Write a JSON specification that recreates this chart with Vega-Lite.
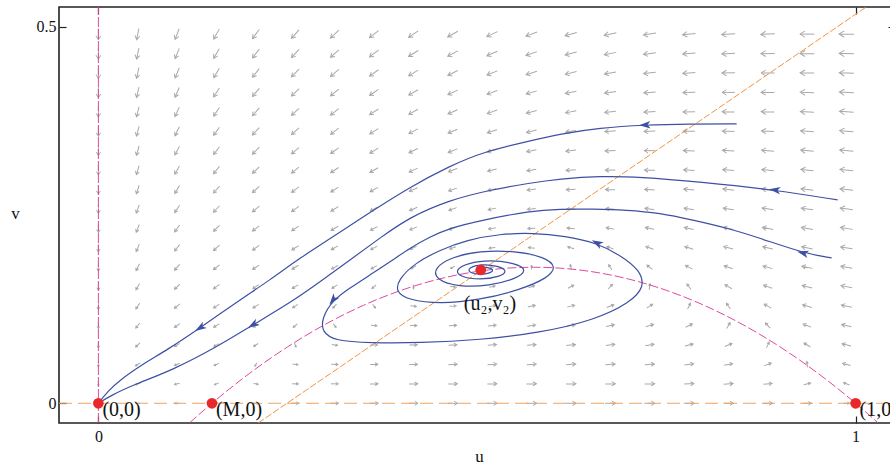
{
"$schema":"https://vega.github.io/schema/vega-lite/v6.json",
"width":836,"height":416,"autosize":"none",
"padding":{"left":59,"top":7,"right":0,"bottom":45},
"config":{"view":{"stroke":"#222","strokeWidth":1.6},
"axis":{"labelFont":"Liberation Serif","titleFont":"Liberation Serif","labelFontSize":16,"titleFontSize":17,"titleFontWeight":"normal","labelColor":"#111","titleColor":"#111","tickColor":"#222","tickWidth":1.2,"domain":false,"grid":false}},
"datasets":{
"vec":[
{"u":0,"v":0.0258,"d":90,"m":0.0027},{"u":0,"v":0.0516,"d":90,"m":0.006},{"u":0,"v":0.0774,"d":90,"m":0.0099},{"u":0,"v":0.1032,"d":90,"m":0.0146},{"u":0,"v":0.129,"d":90,"m":0.0199},{"u":0,"v":0.1548,"d":90,"m":0.0259},{"u":0,"v":0.1806,"d":90,"m":0.0325},{"u":0,"v":0.2064,"d":90,"m":0.0398},{"u":0,"v":0.2322,"d":90,"m":0.0478},{"u":0,"v":0.258,"d":90,"m":0.0564},{"u":0,"v":0.2838,"d":90,"m":0.0657},{"u":0,"v":0.3096,"d":90,"m":0.0757},{"u":0,"v":0.3354,"d":90,"m":0.0863},{"u":0,"v":0.3612,"d":90,"m":0.0976},{"u":0,"v":0.387,"d":90,"m":0.1096},{"u":0,"v":0.4128,"d":90,"m":0.1222},{"u":0,"v":0.4386,"d":90,"m":0.1355},{"u":0,"v":0.4644,"d":90,"m":0.1495},{"u":0,"v":0.4902,"d":90,"m":0.1641},
{"u":0.052,"v":0,"d":180,"m":0.0048},{"u":0.052,"v":0.0258,"d":161,"m":0.0065},{"u":0.052,"v":0.0516,"d":146,"m":0.009},{"u":0.052,"v":0.0774,"d":136,"m":0.0123},{"u":0.052,"v":0.1032,"d":129,"m":0.0163},{"u":0.052,"v":0.129,"d":123,"m":0.021},{"u":0.052,"v":0.1548,"d":119,"m":0.0264},{"u":0.052,"v":0.1806,"d":116,"m":0.0325},{"u":0.052,"v":0.2064,"d":113,"m":0.0392},{"u":0.052,"v":0.2322,"d":111,"m":0.0467},{"u":0.052,"v":0.258,"d":110,"m":0.0548},{"u":0.052,"v":0.2838,"d":108,"m":0.0636},{"u":0.052,"v":0.3096,"d":107,"m":0.0731},{"u":0.052,"v":0.3354,"d":106,"m":0.0832},{"u":0.052,"v":0.3612,"d":105,"m":0.094},{"u":0.052,"v":0.387,"d":104,"m":0.1055},{"u":0.052,"v":0.4128,"d":103,"m":0.1177},{"u":0.052,"v":0.4386,"d":102,"m":0.1305},{"u":0.052,"v":0.4644,"d":102,"m":0.144},{"u":0.052,"v":0.4902,"d":101,"m":0.158},
{"u":0.104,"v":0,"d":180,"m":0.0043},{"u":0.104,"v":0.0258,"d":166,"m":0.0072},{"u":0.104,"v":0.0516,"d":157,"m":0.0105},{"u":0.104,"v":0.0774,"d":150,"m":0.0142},{"u":0.104,"v":0.1032,"d":144,"m":0.0185},{"u":0.104,"v":0.129,"d":139,"m":0.0233},{"u":0.104,"v":0.1548,"d":135,"m":0.0287},{"u":0.104,"v":0.1806,"d":132,"m":0.0347},{"u":0.104,"v":0.2064,"d":129,"m":0.0413},{"u":0.104,"v":0.2322,"d":126,"m":0.0485},{"u":0.104,"v":0.258,"d":124,"m":0.0564},{"u":0.104,"v":0.2838,"d":121,"m":0.0648},{"u":0.104,"v":0.3096,"d":120,"m":0.074},{"u":0.104,"v":0.3354,"d":118,"m":0.0838},{"u":0.104,"v":0.3612,"d":116,"m":0.0942},{"u":0.104,"v":0.387,"d":115,"m":0.1053},{"u":0.104,"v":0.4128,"d":114,"m":0.117},{"u":0.104,"v":0.4386,"d":113,"m":0.1295},{"u":0.104,"v":0.4644,"d":112,"m":0.1425},{"u":0.104,"v":0.4902,"d":111,"m":0.1563},
{"u":0.156,"v":0,"d":0,"m":0.0008},{"u":0.156,"v":0.0258,"d":159,"m":0.0035},{"u":0.156,"v":0.0516,"d":157,"m":0.0079},{"u":0.156,"v":0.0774,"d":153,"m":0.0126},{"u":0.156,"v":0.1032,"d":150,"m":0.0177},{"u":0.156,"v":0.129,"d":147,"m":0.0232},{"u":0.156,"v":0.1548,"d":143,"m":0.0291},{"u":0.156,"v":0.1806,"d":141,"m":0.0355},{"u":0.156,"v":0.2064,"d":138,"m":0.0424},{"u":0.156,"v":0.2322,"d":135,"m":0.0498},{"u":0.156,"v":0.258,"d":133,"m":0.0578},{"u":0.156,"v":0.2838,"d":131,"m":0.0664},{"u":0.156,"v":0.3096,"d":129,"m":0.0755},{"u":0.156,"v":0.3354,"d":127,"m":0.0853},{"u":0.156,"v":0.3612,"d":126,"m":0.0956},{"u":0.156,"v":0.387,"d":124,"m":0.1066},{"u":0.156,"v":0.4128,"d":123,"m":0.1181},{"u":0.156,"v":0.4386,"d":121,"m":0.1303},{"u":0.156,"v":0.4644,"d":120,"m":0.1432},{"u":0.156,"v":0.4902,"d":119,"m":0.1567},
{"u":0.208,"v":0,"d":0,"m":0.0096},{"u":0.208,"v":0.0258,"d":10,"m":0.0043},{"u":0.208,"v":0.0516,"d":119,"m":0.0025},{"u":0.208,"v":0.0774,"d":147,"m":0.0078},{"u":0.208,"v":0.1032,"d":150,"m":0.0138},{"u":0.208,"v":0.129,"d":149,"m":0.0202},{"u":0.208,"v":0.1548,"d":147,"m":0.0269},{"u":0.208,"v":0.1806,"d":146,"m":0.034},{"u":0.208,"v":0.2064,"d":144,"m":0.0415},{"u":0.208,"v":0.2322,"d":142,"m":0.0495},{"u":0.208,"v":0.258,"d":140,"m":0.0579},{"u":0.208,"v":0.2838,"d":138,"m":0.0668},{"u":0.208,"v":0.3096,"d":136,"m":0.0763},{"u":0.208,"v":0.3354,"d":134,"m":0.0863},{"u":0.208,"v":0.3612,"d":133,"m":0.0968},{"u":0.208,"v":0.387,"d":131,"m":0.1079},{"u":0.208,"v":0.4128,"d":130,"m":0.1195},{"u":0.208,"v":0.4386,"d":128,"m":0.1318},{"u":0.208,"v":0.4644,"d":127,"m":0.1446},{"u":0.208,"v":0.4902,"d":126,"m":0.158},
{"u":0.26,"v":0,"d":0,"m":0.0212},{"u":0.26,"v":0.0258,"d":1,"m":0.0145},{"u":0.26,"v":0.0516,"d":9,"m":0.0079},{"u":0.26,"v":0.0774,"d":70,"m":0.003},{"u":0.26,"v":0.1032,"d":138,"m":0.0077},{"u":0.26,"v":0.129,"d":147,"m":0.0148},{"u":0.26,"v":0.1548,"d":149,"m":0.0224},{"u":0.26,"v":0.1806,"d":148,"m":0.0303},{"u":0.26,"v":0.2064,"d":147,"m":0.0387},{"u":0.26,"v":0.2322,"d":146,"m":0.0474},{"u":0.26,"v":0.258,"d":144,"m":0.0565},{"u":0.26,"v":0.2838,"d":143,"m":0.066},{"u":0.26,"v":0.3096,"d":141,"m":0.0759},{"u":0.26,"v":0.3354,"d":140,"m":0.0864},{"u":0.26,"v":0.3612,"d":138,"m":0.0973},{"u":0.26,"v":0.387,"d":137,"m":0.1087},{"u":0.26,"v":0.4128,"d":136,"m":0.1207},{"u":0.26,"v":0.4386,"d":134,"m":0.1332},{"u":0.26,"v":0.4644,"d":133,"m":0.1462},{"u":0.26,"v":0.4902,"d":132,"m":0.1598},
{"u":0.312,"v":0,"d":0,"m":0.0348},{"u":0.312,"v":0.0258,"d":360,"m":0.0267},{"u":0.312,"v":0.0516,"d":1,"m":0.0187},{"u":0.312,"v":0.0774,"d":8,"m":0.0107},{"u":0.312,"v":0.1032,"d":52,"m":0.0042},{"u":0.312,"v":0.129,"d":134,"m":0.0079},{"u":0.312,"v":0.1548,"d":147,"m":0.0162},{"u":0.312,"v":0.1806,"d":150,"m":0.025},{"u":0.312,"v":0.2064,"d":150,"m":0.0342},{"u":0.312,"v":0.2322,"d":149,"m":0.0438},{"u":0.312,"v":0.258,"d":148,"m":0.0537},{"u":0.312,"v":0.2838,"d":147,"m":0.0639},{"u":0.312,"v":0.3096,"d":146,"m":0.0746},{"u":0.312,"v":0.3354,"d":145,"m":0.0856},{"u":0.312,"v":0.3612,"d":143,"m":0.0971},{"u":0.312,"v":0.387,"d":142,"m":0.1091},{"u":0.312,"v":0.4128,"d":141,"m":0.1215},{"u":0.312,"v":0.4386,"d":139,"m":0.1344},{"u":0.312,"v":0.4644,"d":138,"m":0.1477},{"u":0.312,"v":0.4902,"d":137,"m":0.1617},
{"u":0.364,"v":0,"d":0,"m":0.0495},{"u":0.364,"v":0.0258,"d":359,"m":0.0402},{"u":0.364,"v":0.0516,"d":359,"m":0.0308},{"u":0.364,"v":0.0774,"d":0,"m":0.0214},{"u":0.364,"v":0.1032,"d":7,"m":0.0121},{"u":0.364,"v":0.129,"d":53,"m":0.0043},{"u":0.364,"v":0.1548,"d":138,"m":0.0091},{"u":0.364,"v":0.1806,"d":150,"m":0.0187},{"u":0.364,"v":0.2064,"d":152,"m":0.0289},{"u":0.364,"v":0.2322,"d":153,"m":0.0394},{"u":0.364,"v":0.258,"d":152,"m":0.0502},{"u":0.364,"v":0.2838,"d":151,"m":0.0613},{"u":0.364,"v":0.3096,"d":150,"m":0.0727},{"u":0.364,"v":0.3354,"d":149,"m":0.0845},{"u":0.364,"v":0.3612,"d":148,"m":0.0967},{"u":0.364,"v":0.387,"d":147,"m":0.1093},{"u":0.364,"v":0.4128,"d":145,"m":0.1223},{"u":0.364,"v":0.4386,"d":144,"m":0.1357},{"u":0.364,"v":0.4644,"d":143,"m":0.1496},{"u":0.364,"v":0.4902,"d":142,"m":0.164},
{"u":0.416,"v":0,"d":0,"m":0.0646},{"u":0.416,"v":0.0258,"d":359,"m":0.0539},{"u":0.416,"v":0.0516,"d":358,"m":0.0432},{"u":0.416,"v":0.0774,"d":358,"m":0.0324},{"u":0.416,"v":0.1032,"d":359,"m":0.0217},{"u":0.416,"v":0.129,"d":5,"m":0.011},{"u":0.416,"v":0.1548,"d":86,"m":0.0032},{"u":0.416,"v":0.1806,"d":150,"m":0.0122},{"u":0.416,"v":0.2064,"d":156,"m":0.0233},{"u":0.416,"v":0.2322,"d":157,"m":0.0348},{"u":0.416,"v":0.258,"d":156,"m":0.0466},{"u":0.416,"v":0.2838,"d":156,"m":0.0587},{"u":0.416,"v":0.3096,"d":155,"m":0.071},{"u":0.416,"v":0.3354,"d":154,"m":0.0837},{"u":0.416,"v":0.3612,"d":152,"m":0.0967},{"u":0.416,"v":0.387,"d":151,"m":0.11},{"u":0.416,"v":0.4128,"d":150,"m":0.1237},{"u":0.416,"v":0.4386,"d":149,"m":0.1378},{"u":0.416,"v":0.4644,"d":148,"m":0.1523},{"u":0.416,"v":0.4902,"d":146,"m":0.1672},
{"u":0.468,"v":0,"d":0,"m":0.0792},{"u":0.468,"v":0.0258,"d":359,"m":0.0671},{"u":0.468,"v":0.0516,"d":357,"m":0.0551},{"u":0.468,"v":0.0774,"d":356,"m":0.0431},{"u":0.468,"v":0.1032,"d":356,"m":0.031},{"u":0.468,"v":0.129,"d":356,"m":0.0189},{"u":0.468,"v":0.1548,"d":3,"m":0.0068},{"u":0.468,"v":0.1806,"d":152,"m":0.006},{"u":0.468,"v":0.2064,"d":161,"m":0.0184},{"u":0.468,"v":0.2322,"d":162,"m":0.031},{"u":0.468,"v":0.258,"d":161,"m":0.0438},{"u":0.468,"v":0.2838,"d":161,"m":0.0569},{"u":0.468,"v":0.3096,"d":159,"m":0.0702},{"u":0.468,"v":0.3354,"d":158,"m":0.0838},{"u":0.468,"v":0.3612,"d":157,"m":0.0976},{"u":0.468,"v":0.387,"d":156,"m":0.1118},{"u":0.468,"v":0.4128,"d":155,"m":0.1263},{"u":0.468,"v":0.4386,"d":153,"m":0.1411},{"u":0.468,"v":0.4644,"d":152,"m":0.1563},{"u":0.468,"v":0.4902,"d":151,"m":0.1718},
{"u":0.52,"v":0,"d":0,"m":0.0924},{"u":0.52,"v":0.0258,"d":359,"m":0.079},{"u":0.52,"v":0.0516,"d":357,"m":0.0656},{"u":0.52,"v":0.0774,"d":355,"m":0.0523},{"u":0.52,"v":0.1032,"d":354,"m":0.0389},{"u":0.52,"v":0.129,"d":352,"m":0.0255},{"u":0.52,"v":0.1548,"d":348,"m":0.0121},{"u":0.52,"v":0.1806,"d":198,"m":0.0016},{"u":0.52,"v":0.2064,"d":172,"m":0.0151},{"u":0.52,"v":0.2322,"d":169,"m":0.0289},{"u":0.52,"v":0.258,"d":168,"m":0.0428},{"u":0.52,"v":0.2838,"d":166,"m":0.0569},{"u":0.52,"v":0.3096,"d":165,"m":0.0712},{"u":0.52,"v":0.3354,"d":163,"m":0.0858},{"u":0.52,"v":0.3612,"d":162,"m":0.1006},{"u":0.52,"v":0.387,"d":160,"m":0.1156},{"u":0.52,"v":0.4128,"d":159,"m":0.1309},{"u":0.52,"v":0.4386,"d":158,"m":0.1466},{"u":0.52,"v":0.4644,"d":157,"m":0.1625},{"u":0.52,"v":0.4902,"d":155,"m":0.1788},
{"u":0.572,"v":0,"d":0,"m":0.1033},{"u":0.572,"v":0.0258,"d":358,"m":0.0886},{"u":0.572,"v":0.0516,"d":357,"m":0.0739},{"u":0.572,"v":0.0774,"d":355,"m":0.0593},{"u":0.572,"v":0.1032,"d":352,"m":0.0447},{"u":0.572,"v":0.129,"d":348,"m":0.0301},{"u":0.572,"v":0.1548,"d":340,"m":0.0157},{"u":0.572,"v":0.1806,"d":270,"m":0.0038},{"u":0.572,"v":0.2064,"d":187,"m":0.0149},{"u":0.572,"v":0.2322,"d":178,"m":0.0295},{"u":0.572,"v":0.258,"d":174,"m":0.0445},{"u":0.572,"v":0.2838,"d":172,"m":0.0597},{"u":0.572,"v":0.3096,"d":170,"m":0.075},{"u":0.572,"v":0.3354,"d":168,"m":0.0905},{"u":0.572,"v":0.3612,"d":166,"m":0.1063},{"u":0.572,"v":0.387,"d":165,"m":0.1223},{"u":0.572,"v":0.4128,"d":164,"m":0.1385},{"u":0.572,"v":0.4386,"d":162,"m":0.155},{"u":0.572,"v":0.4644,"d":161,"m":0.1717},{"u":0.572,"v":0.4902,"d":160,"m":0.1888},
{"u":0.624,"v":0,"d":0,"m":0.1112},{"u":0.624,"v":0.0258,"d":358,"m":0.0951},{"u":0.624,"v":0.0516,"d":356,"m":0.0792},{"u":0.624,"v":0.0774,"d":354,"m":0.0633},{"u":0.624,"v":0.1032,"d":350,"m":0.0475},{"u":0.624,"v":0.129,"d":345,"m":0.0318},{"u":0.624,"v":0.1548,"d":331,"m":0.0167},{"u":0.624,"v":0.1806,"d":258,"m":0.0073},{"u":0.624,"v":0.2064,"d":197,"m":0.0184},{"u":0.624,"v":0.2322,"d":185,"m":0.0338},{"u":0.624,"v":0.258,"d":180,"m":0.0498},{"u":0.624,"v":0.2838,"d":177,"m":0.066},{"u":0.624,"v":0.3096,"d":175,"m":0.0824},{"u":0.624,"v":0.3354,"d":173,"m":0.0989},{"u":0.624,"v":0.3612,"d":171,"m":0.1157},{"u":0.624,"v":0.387,"d":169,"m":0.1326},{"u":0.624,"v":0.4128,"d":168,"m":0.1498},{"u":0.624,"v":0.4386,"d":166,"m":0.1672},{"u":0.624,"v":0.4644,"d":165,"m":0.1848},{"u":0.624,"v":0.4902,"d":164,"m":0.2027},
{"u":0.676,"v":0,"d":0,"m":0.1152},{"u":0.676,"v":0.0258,"d":358,"m":0.0978},{"u":0.676,"v":0.0516,"d":356,"m":0.0806},{"u":0.676,"v":0.0774,"d":352,"m":0.0634},{"u":0.676,"v":0.1032,"d":348,"m":0.0465},{"u":0.676,"v":0.129,"d":339,"m":0.03},{"u":0.676,"v":0.1548,"d":314,"m":0.0152},{"u":0.676,"v":0.1806,"d":237,"m":0.0125},{"u":0.676,"v":0.2064,"d":201,"m":0.026},{"u":0.676,"v":0.2322,"d":190,"m":0.0424},{"u":0.676,"v":0.258,"d":185,"m":0.0594},{"u":0.676,"v":0.2838,"d":181,"m":0.0767},{"u":0.676,"v":0.3096,"d":179,"m":0.0941},{"u":0.676,"v":0.3354,"d":177,"m":0.1117},{"u":0.676,"v":0.3612,"d":175,"m":0.1295},{"u":0.676,"v":0.387,"d":173,"m":0.1475},{"u":0.676,"v":0.4128,"d":172,"m":0.1657},{"u":0.676,"v":0.4386,"d":170,"m":0.184},{"u":0.676,"v":0.4644,"d":169,"m":0.2025},{"u":0.676,"v":0.4902,"d":168,"m":0.2214},
{"u":0.728,"v":0,"d":0,"m":0.1144},{"u":0.728,"v":0.0258,"d":358,"m":0.0957},{"u":0.728,"v":0.0516,"d":355,"m":0.0772},{"u":0.728,"v":0.0774,"d":350,"m":0.0589},{"u":0.728,"v":0.1032,"d":343,"m":0.0411},{"u":0.728,"v":0.129,"d":327,"m":0.0244},{"u":0.728,"v":0.1548,"d":277,"m":0.0139},{"u":0.728,"v":0.1806,"d":219,"m":0.0219},{"u":0.728,"v":0.2064,"d":200,"m":0.0381},{"u":0.728,"v":0.2322,"d":192,"m":0.0558},{"u":0.728,"v":0.258,"d":188,"m":0.074},{"u":0.728,"v":0.2838,"d":184,"m":0.0924},{"u":0.728,"v":0.3096,"d":182,"m":0.111},{"u":0.728,"v":0.3354,"d":180,"m":0.1297},{"u":0.728,"v":0.3612,"d":178,"m":0.1486},{"u":0.728,"v":0.387,"d":176,"m":0.1676},{"u":0.728,"v":0.4128,"d":175,"m":0.1868},{"u":0.728,"v":0.4386,"d":174,"m":0.2062},{"u":0.728,"v":0.4644,"d":172,"m":0.2257},{"u":0.728,"v":0.4902,"d":171,"m":0.2455},
{"u":0.78,"v":0,"d":0,"m":0.1081},{"u":0.78,"v":0.0258,"d":357,"m":0.0881},{"u":0.78,"v":0.0516,"d":353,"m":0.0684},{"u":0.78,"v":0.0774,"d":347,"m":0.0491},{"u":0.78,"v":0.1032,"d":334,"m":0.0308},{"u":0.78,"v":0.129,"d":296,"m":0.0172},{"u":0.78,"v":0.1548,"d":233,"m":0.0209},{"u":0.78,"v":0.1806,"d":208,"m":0.0369},{"u":0.78,"v":0.2064,"d":198,"m":0.0555},{"u":0.78,"v":0.2322,"d":192,"m":0.0747},{"u":0.78,"v":0.258,"d":189,"m":0.0942},{"u":0.78,"v":0.2838,"d":186,"m":0.1139},{"u":0.78,"v":0.3096,"d":184,"m":0.1337},{"u":0.78,"v":0.3354,"d":182,"m":0.1536},{"u":0.78,"v":0.3612,"d":181,"m":0.1736},{"u":0.78,"v":0.387,"d":179,"m":0.1938},{"u":0.78,"v":0.4128,"d":178,"m":0.2141},{"u":0.78,"v":0.4386,"d":176,"m":0.2345},{"u":0.78,"v":0.4644,"d":175,"m":0.2551},{"u":0.78,"v":0.4902,"d":174,"m":0.2758},
{"u":0.832,"v":0,"d":0,"m":0.0954},{"u":0.832,"v":0.0258,"d":356,"m":0.074},{"u":0.832,"v":0.0516,"d":350,"m":0.0532},{"u":0.832,"v":0.0774,"d":338,"m":0.0335},{"u":0.832,"v":0.1032,"d":301,"m":0.0183},{"u":0.832,"v":0.129,"d":236,"m":0.0215},{"u":0.832,"v":0.1548,"d":210,"m":0.0387},{"u":0.832,"v":0.1806,"d":200,"m":0.0585},{"u":0.832,"v":0.2064,"d":195,"m":0.0791},{"u":0.832,"v":0.2322,"d":192,"m":0.0999},{"u":0.832,"v":0.258,"d":189,"m":0.1208},{"u":0.832,"v":0.2838,"d":187,"m":0.1418},{"u":0.832,"v":0.3096,"d":185,"m":0.1629},{"u":0.832,"v":0.3354,"d":184,"m":0.1841},{"u":0.832,"v":0.3612,"d":182,"m":0.2054},{"u":0.832,"v":0.387,"d":181,"m":0.2266},{"u":0.832,"v":0.4128,"d":180,"m":0.2481},{"u":0.832,"v":0.4386,"d":179,"m":0.2697},{"u":0.832,"v":0.4644,"d":177,"m":0.2913},{"u":0.832,"v":0.4902,"d":176,"m":0.3132},
{"u":0.884,"v":0,"d":0,"m":0.0752},{"u":0.884,"v":0.0258,"d":354,"m":0.0527},{"u":0.884,"v":0.0516,"d":341,"m":0.0313},{"u":0.884,"v":0.0774,"d":296,"m":0.0157},{"u":0.884,"v":0.1032,"d":228,"m":0.0237},{"u":0.884,"v":0.129,"d":208,"m":0.0438},{"u":0.884,"v":0.1548,"d":200,"m":0.0655},{"u":0.884,"v":0.1806,"d":196,"m":0.0877},{"u":0.884,"v":0.2064,"d":193,"m":0.1099},{"u":0.884,"v":0.2322,"d":191,"m":0.1323},{"u":0.884,"v":0.258,"d":189,"m":0.1546},{"u":0.884,"v":0.2838,"d":187,"m":0.177},{"u":0.884,"v":0.3096,"d":186,"m":0.1996},{"u":0.884,"v":0.3354,"d":185,"m":0.222},{"u":0.884,"v":0.3612,"d":183,"m":0.2445},{"u":0.884,"v":0.387,"d":182,"m":0.2671},{"u":0.884,"v":0.4128,"d":181,"m":0.2898},{"u":0.884,"v":0.4386,"d":180,"m":0.3125},{"u":0.884,"v":0.4644,"d":179,"m":0.3353},{"u":0.884,"v":0.4902,"d":178,"m":0.3583},
{"u":0.936,"v":0,"d":0,"m":0.0471},{"u":0.936,"v":0.0258,"d":346,"m":0.0237},{"u":0.936,"v":0.0516,"d":264,"m":0.0111},{"u":0.936,"v":0.0774,"d":212,"m":0.0297},{"u":0.936,"v":0.1032,"d":201,"m":0.0532},{"u":0.936,"v":0.129,"d":197,"m":0.077},{"u":0.936,"v":0.1548,"d":194,"m":0.101},{"u":0.936,"v":0.1806,"d":192,"m":0.1249},{"u":0.936,"v":0.2064,"d":191,"m":0.1488},{"u":0.936,"v":0.2322,"d":190,"m":0.1727},{"u":0.936,"v":0.258,"d":188,"m":0.1965},{"u":0.936,"v":0.2838,"d":187,"m":0.2203},{"u":0.936,"v":0.3096,"d":186,"m":0.2441},{"u":0.936,"v":0.3354,"d":185,"m":0.268},{"u":0.936,"v":0.3612,"d":184,"m":0.2918},{"u":0.936,"v":0.387,"d":183,"m":0.3157},{"u":0.936,"v":0.4128,"d":182,"m":0.3396},{"u":0.936,"v":0.4386,"d":181,"m":0.3635},{"u":0.936,"v":0.4644,"d":181,"m":0.3876},{"u":0.936,"v":0.4902,"d":180,"m":0.4117},
{"u":0.988,"v":0,"d":0,"m":0.01},{"u":0.988,"v":0.0258,"d":202,"m":0.0167},{"u":0.988,"v":0.0516,"d":196,"m":0.0427},{"u":0.988,"v":0.0774,"d":194,"m":0.0686},{"u":0.988,"v":0.1032,"d":193,"m":0.0944},{"u":0.988,"v":0.129,"d":192,"m":0.1201},{"u":0.988,"v":0.1548,"d":191,"m":0.1457},{"u":0.988,"v":0.1806,"d":190,"m":0.1712},{"u":0.988,"v":0.2064,"d":189,"m":0.1965},{"u":0.988,"v":0.2322,"d":189,"m":0.2218},{"u":0.988,"v":0.258,"d":188,"m":0.2471},{"u":0.988,"v":0.2838,"d":187,"m":0.2724},{"u":0.988,"v":0.3096,"d":186,"m":0.2976},{"u":0.988,"v":0.3354,"d":185,"m":0.3228},{"u":0.988,"v":0.3612,"d":185,"m":0.348},{"u":0.988,"v":0.387,"d":184,"m":0.3732},{"u":0.988,"v":0.4128,"d":183,"m":0.3985},{"u":0.988,"v":0.4386,"d":182,"m":0.4237},{"u":0.988,"v":0.4644,"d":182,"m":0.449},{"u":0.988,"v":0.4902,"d":181,"m":0.4743}
],
"uaxis":[{"u":0,"v":-0.0262},{"u":0,"v":0.5262}],
"vzero":[{"u":-0.052,"v":0},{"u":1.052,"v":0}],
"vline":[{"u":0.211,"v":-0.0262},{"u":1.014,"v":0.5262}],
"parab":[{"u":0.1205,"v":-0.0259},{"u":0.15,"v":0},{"u":0.2,"v":0.04},{"u":0.25,"v":0.075},{"u":0.3,"v":0.105},{"u":0.35,"v":0.13},{"u":0.4,"v":0.15},{"u":0.45,"v":0.165},{"u":0.5,"v":0.175},{"u":0.55,"v":0.18},{"u":0.575,"v":0.1806},{"u":0.6,"v":0.18},{"u":0.65,"v":0.175},{"u":0.7,"v":0.165},{"u":0.75,"v":0.15},{"u":0.8,"v":0.13},{"u":0.85,"v":0.105},{"u":0.9,"v":0.075},{"u":0.95,"v":0.04},{"u":1,"v":0},{"u":1.029,"v":-0.0255}],
"traj":[
{"t":1,"i":0,"u":0.8429,"v":0.3709},{"t":1,"i":1,"u":0.7809,"v":0.3709},{"t":1,"i":2,"u":0.7215,"v":0.3696},{"t":1,"i":3,"u":0.6622,"v":0.3656},{"t":1,"i":4,"u":0.6094,"v":0.3576},{"t":1,"i":5,"u":0.5698,"v":0.3483},{"t":1,"i":6,"u":0.5077,"v":0.3337},{"t":1,"i":7,"u":0.4642,"v":0.3151},{"t":1,"i":8,"u":0.4114,"v":0.2873},{"t":1,"i":9,"u":0.3493,"v":0.2474},{"t":1,"i":10,"u":0.3098,"v":0.2209},{"t":1,"i":11,"u":0.2662,"v":0.193},{"t":1,"i":12,"u":0.2266,"v":0.1637},{"t":1,"i":13,"u":0.187,"v":0.1373},{"t":1,"i":14,"u":0.1342,"v":0.1},{"t":1,"i":15,"u":0.0907,"v":0.0708},{"t":1,"i":16,"u":0.059,"v":0.0522},{"t":1,"i":17,"u":0.0286,"v":0.031},{"t":1,"i":18,"u":0.0115,"v":0.015},{"t":1,"i":19,"u":0,"v":0},
{"t":2,"i":0,"u":0.9762,"v":0.27},{"t":2,"i":1,"u":0.8931,"v":0.2833},{"t":2,"i":2,"u":0.7941,"v":0.2939},{"t":2,"i":3,"u":0.7149,"v":0.3005},{"t":2,"i":4,"u":0.6622,"v":0.3018},{"t":2,"i":5,"u":0.6094,"v":0.2978},{"t":2,"i":6,"u":0.5698,"v":0.2925},{"t":2,"i":7,"u":0.517,"v":0.2832},{"t":2,"i":8,"u":0.4642,"v":0.27},{"t":2,"i":9,"u":0.4114,"v":0.2474},{"t":2,"i":10,"u":0.3718,"v":0.2195},{"t":2,"i":11,"u":0.3322,"v":0.1903},{"t":2,"i":12,"u":0.2926,"v":0.1611},{"t":2,"i":13,"u":0.253,"v":0.1332},{"t":2,"i":14,"u":0.2041,"v":0.1041},{"t":2,"i":15,"u":0.1566,"v":0.0748},{"t":2,"i":16,"u":0.0986,"v":0.0443},{"t":2,"i":17,"u":0.0458,"v":0.0243},{"t":2,"i":18,"u":0.0154,"v":0.0097},{"t":2,"i":19,"u":0,"v":0},
{"t":3,"i":0,"u":0.9683,"v":0.193},{"t":3,"i":1,"u":0.9301,"v":0.1996},{"t":3,"i":2,"u":0.8733,"v":0.2195},{"t":3,"i":3,"u":0.8298,"v":0.2328},{"t":3,"i":4,"u":0.7849,"v":0.2434},{"t":3,"i":5,"u":0.7413,"v":0.2527},{"t":3,"i":6,"u":0.6978,"v":0.2567},{"t":3,"i":7,"u":0.6529,"v":0.258},{"t":3,"i":8,"u":0.6094,"v":0.258},{"t":3,"i":9,"u":0.5698,"v":0.2554},{"t":3,"i":10,"u":0.5077,"v":0.2434},{"t":3,"i":11,"u":0.4642,"v":0.2328},{"t":3,"i":12,"u":0.4378,"v":0.2208},{"t":3,"i":13,"u":0.4114,"v":0.2062},{"t":3,"i":14,"u":0.3889,"v":0.1903},{"t":3,"i":15,"u":0.3586,"v":0.1704},{"t":3,"i":16,"u":0.3322,"v":0.1531},{"t":3,"i":17,"u":0.3098,"v":0.1372},{"t":3,"i":18,"u":0.2952,"v":0.1133},{"t":3,"i":19,"u":0.2952,"v":0.0947},{"t":3,"i":20,"u":0.3124,"v":0.0828},{"t":3,"i":21,"u":0.3586,"v":0.0801},{"t":3,"i":22,"u":0.4246,"v":0.0801},{"t":3,"i":23,"u":0.5038,"v":0.0841},{"t":3,"i":24,"u":0.583,"v":0.0934},{"t":3,"i":25,"u":0.6556,"v":0.1107},{"t":3,"i":26,"u":0.7018,"v":0.1333},{"t":3,"i":27,"u":0.7216,"v":0.1545},{"t":3,"i":28,"u":0.715,"v":0.1771},{"t":3,"i":29,"u":0.6886,"v":0.197},{"t":3,"i":30,"u":0.6583,"v":0.2129},{"t":3,"i":31,"u":0.6161,"v":0.2222},{"t":3,"i":32,"u":0.5738,"v":0.2262},{"t":3,"i":33,"u":0.5303,"v":0.2249},{"t":3,"i":34,"u":0.4867,"v":0.2169},{"t":3,"i":35,"u":0.4511,"v":0.2036},{"t":3,"i":36,"u":0.4181,"v":0.1863},{"t":3,"i":37,"u":0.3957,"v":0.1638},{"t":3,"i":38,"u":0.393,"v":0.1478},{"t":3,"i":39,"u":0.4089,"v":0.1372},{"t":3,"i":40,"u":0.4511,"v":0.1319},{"t":3,"i":41,"u":0.5038,"v":0.1372},{"t":3,"i":42,"u":0.5566,"v":0.1505},{"t":3,"i":43,"u":0.5935,"v":0.1664},{"t":3,"i":44,"u":0.6054,"v":0.181},{"t":3,"i":45,"u":0.5896,"v":0.1943},{"t":3,"i":46,"u":0.55,"v":0.2023},{"t":3,"i":47,"u":0.5038,"v":0.2023},{"t":3,"i":48,"u":0.4669,"v":0.1943},{"t":3,"i":49,"u":0.4431,"v":0.1797},{"t":3,"i":50,"u":0.4457,"v":0.1638},{"t":3,"i":51,"u":0.4748,"v":0.1545},{"t":3,"i":52,"u":0.517,"v":0.1558},{"t":3,"i":53,"u":0.5513,"v":0.1651},{"t":3,"i":54,"u":0.5672,"v":0.1771},{"t":3,"i":55,"u":0.55,"v":0.1863},{"t":3,"i":56,"u":0.517,"v":0.1903},{"t":3,"i":57,"u":0.488,"v":0.1863},{"t":3,"i":58,"u":0.4709,"v":0.1771},{"t":3,"i":59,"u":0.4775,"v":0.1678},{"t":3,"i":60,"u":0.5038,"v":0.1638},{"t":3,"i":61,"u":0.5302,"v":0.1678},{"t":3,"i":62,"u":0.5408,"v":0.1757},{"t":3,"i":63,"u":0.5276,"v":0.1824},{"t":3,"i":64,"u":0.5065,"v":0.185},{"t":3,"i":65,"u":0.488,"v":0.1797},{"t":3,"i":66,"u":0.4893,"v":0.1731},{"t":3,"i":67,"u":0.5065,"v":0.1704},{"t":3,"i":68,"u":0.5223,"v":0.1744},{"t":3,"i":69,"u":0.5196,"v":0.1797},{"t":3,"i":70,"u":0.5051,"v":0.1811},{"t":3,"i":71,"u":0.4959,"v":0.1771},{"t":3,"i":72,"u":0.5051,"v":0.1744},{"t":3,"i":73,"u":0.5117,"v":0.1771},{"t":3,"i":74,"u":0.5051,"v":0.1771}
],
"heads":[{"u":0.7215,"v":0.3696,"d":178},{"u":0.1342,"v":0.1,"d":148},{"u":0.8931,"v":0.2833,"d":187},{"u":0.2041,"v":0.1041,"d":149},{"u":0.9301,"v":0.1996,"d":194},{"u":0.3098,"v":0.1372,"d":128},{"u":0.6583,"v":0.2129,"d":208}],
"eq":[{"u":0,"v":0},{"u":0.15,"v":0},{"u":1,"v":0},{"u":0.505,"v":0.177}],
"lab":[{"u":0,"v":0,"t":"(0,0)"},{"u":0.15,"v":0,"t":"(M,0)"},{"u":1,"v":0,"t":"(1,0)"}],
"lab2":[{"u":0.505,"v":0.177,"t":"(u₂,v₂)"}]
},
"resolve":{"axis":{"x":"independent","y":"independent"}},
"layer":[
{"layer":[
{"data":{"name":"vec"},
"mark":{"type":"point","shape":"M-1,0L1,0M0.3,-0.42L1,0L0.3,0.42","filled":false,"strokeWidth":1,"opacity":1,"color":"#A9A9A9"},
"encoding":{
"x":{"field":"u","type":"quantitative","scale":{"domain":[-0.052,1.052],"nice":false,"zero":false},"axis":{"values":[0,1],"format":"~g","title":"u","tickSize":-7,"labelPadding":12,"titleX":420,"titleY":33,"titleBaseline":"middle"}},
"y":{"field":"v","type":"quantitative","scale":{"domain":[-0.0262,0.5262],"nice":false,"zero":false},"axis":{"values":[0,0.5],"format":"~g","title":"v","tickSize":-7,"labelPadding":10,"titleAngle":0,"titleX":-44,"titleY":206,"titleAlign":"center","titleBaseline":"middle"}},
"angle":{"field":"d","type":"quantitative","scale":null},
"size":{"field":"m","type":"quantitative","scale":{"type":"pow","exponent":0.5,"domain":[0,0.5],"range":[0,232]},"legend":null}}},
{"data":{"name":"uaxis"},"mark":{"type":"line","color":"#E0489E","strokeWidth":1,"strokeDash":[10,2],"clip":true},
"encoding":{"x":{"field":"u","type":"quantitative","scale":{"domain":[-0.052,1.052],"nice":false,"zero":false}},"y":{"field":"v","type":"quantitative","scale":{"domain":[-0.0262,0.5262],"nice":false,"zero":false}}}},
{"data":{"name":"parab"},"mark":{"type":"line","color":"#E0489E","strokeWidth":1,"strokeDash":[9,3],"interpolate":"monotone","clip":true},
"encoding":{"x":{"field":"u","type":"quantitative","scale":{"domain":[-0.052,1.052],"nice":false,"zero":false}},"y":{"field":"v","type":"quantitative","scale":{"domain":[-0.0262,0.5262],"nice":false,"zero":false}}}},
{"data":{"name":"vzero"},"mark":{"type":"line","color":"#F2A35E","strokeWidth":1,"strokeDash":[13,6],"clip":true},
"encoding":{"x":{"field":"u","type":"quantitative","scale":{"domain":[-0.052,1.052],"nice":false,"zero":false}},"y":{"field":"v","type":"quantitative","scale":{"domain":[-0.0262,0.5262],"nice":false,"zero":false}}}},
{"data":{"name":"vline"},"mark":{"type":"line","color":"#F39440","strokeWidth":1,"strokeDash":[7,2],"clip":true},
"encoding":{"x":{"field":"u","type":"quantitative","scale":{"domain":[-0.052,1.052],"nice":false,"zero":false}},"y":{"field":"v","type":"quantitative","scale":{"domain":[-0.0262,0.5262],"nice":false,"zero":false}}}},
{"data":{"name":"traj"},"mark":{"type":"line","color":"#3E50A3","strokeWidth":1.2,"interpolate":"basis","clip":true},
"encoding":{"x":{"field":"u","type":"quantitative","scale":{"domain":[-0.052,1.052],"nice":false,"zero":false}},"y":{"field":"v","type":"quantitative","scale":{"domain":[-0.0262,0.5262],"nice":false,"zero":false}},"detail":{"field":"t"},"order":{"field":"i"}}},
{"data":{"name":"heads"},"mark":{"type":"point","shape":"M1,0L-1,-0.65L-0.5,0L-1,0.65Z","filled":true,"opacity":1,"color":"#3E50A3","size":130},
"encoding":{"x":{"field":"u","type":"quantitative","scale":{"domain":[-0.052,1.052],"nice":false,"zero":false}},"y":{"field":"v","type":"quantitative","scale":{"domain":[-0.0262,0.5262],"nice":false,"zero":false}},"angle":{"field":"d","type":"quantitative","scale":null}}},
{"data":{"name":"lab"},"mark":{"type":"text","align":"left","baseline":"middle","dx":4,"dy":7,"font":"Liberation Serif","fontSize":20,"color":"#111"},
"encoding":{"x":{"field":"u","type":"quantitative","scale":{"domain":[-0.052,1.052],"nice":false,"zero":false}},"y":{"field":"v","type":"quantitative","scale":{"domain":[-0.0262,0.5262],"nice":false,"zero":false}},"text":{"field":"t"}}},
{"data":{"name":"lab2"},"mark":{"type":"text","align":"left","baseline":"middle","dx":-17,"dy":34,"font":"Liberation Serif","fontSize":20,"color":"#111"},
"encoding":{"x":{"field":"u","type":"quantitative","scale":{"domain":[-0.052,1.052],"nice":false,"zero":false}},"y":{"field":"v","type":"quantitative","scale":{"domain":[-0.0262,0.5262],"nice":false,"zero":false}},"text":{"field":"t"}}}
]},
{"data":{"name":"eq"},"mark":{"type":"circle","color":"#E8282B","size":115,"opacity":1},
"encoding":{
"x":{"field":"u","type":"quantitative","scale":{"domain":[-0.052,1.052],"nice":false,"zero":false},"axis":{"orient":"top","values":[0,1],"labels":false,"title":null,"tickSize":-7}},
"y":{"field":"v","type":"quantitative","scale":{"domain":[-0.0262,0.5262],"nice":false,"zero":false},"axis":{"orient":"right","values":[0,0.5],"labels":false,"title":null,"tickSize":-7}}}}
]
}
